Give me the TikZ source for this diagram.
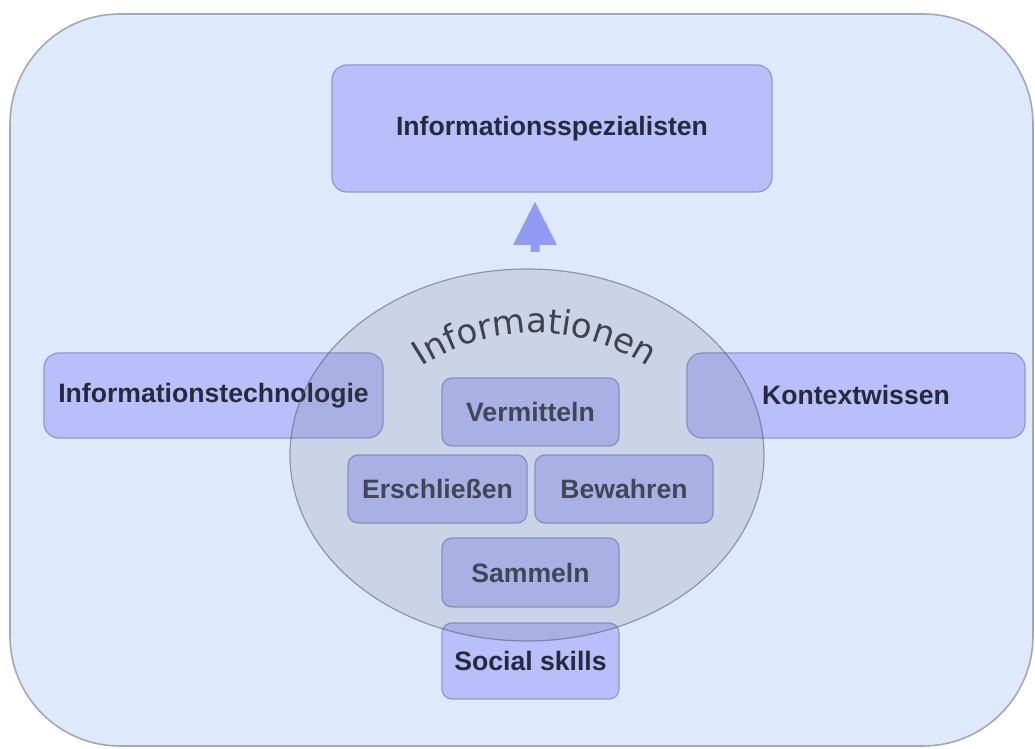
\documentclass[tikz,border=0pt]{standalone}
\usepackage{fontspec}
\setsansfont{Liberation Sans}
\newfontfamily\curvefont{DejaVu Sans}
\usetikzlibrary{shapes.geometric,decorations.text}
\definecolor{framefill}{RGB}{223,233,252}
\definecolor{framedraw}{RGB}{165,168,178}
\definecolor{boxfill}{RGB}{185,191,250}
\definecolor{boxdraw}{RGB}{145,151,205}
\definecolor{shade}{RGB}{83,93,107}
\definecolor{textdark}{RGB}{38,42,58}
\definecolor{textgrey}{RGB}{62,67,84}
\definecolor{arrowfill}{RGB}{146,154,244}
\begin{document}
\begin{tikzpicture}[x=0.5pt, y=0.5pt,
		topic/.style={draw=boxdraw, line width=0.6pt, fill=boxfill, rounded corners=7.5pt, text=textdark, font=\sffamily\bfseries\fontsize{13.3}{15}\selectfont, inner sep=0pt},
		task/.style={topic, rounded corners=5pt, text=textgrey, minimum width=88.5pt, minimum height=34pt}]
			\useasboundingbox (0,0) rectangle (1035,749);
			\draw [draw=framedraw, line width=0.8pt, fill=framefill, rounded corners=55pt] (10,735) rectangle (1033,3);
			\node[topic, minimum width=220pt, minimum height=63.5pt] (spez) at (552,620.5) {Informationsspezialisten};
			\node[topic, minimum width=169.5pt, minimum height=42.5pt] (itech) at (213.5,353.5) {Informationstechnologie};
			\node[topic, minimum width=169pt, minimum height=42.5pt] (kontext) at (856,353.5) {Kontextwissen};
			\node[task] (vermitteln) at (530.5,337) {Vermitteln};
			\node[task, minimum width=89.5pt] (erschliessen) at (437.5,260) {Erschließen};
			\node[task, minimum width=89pt] (bewahren) at (624,260) {Bewahren};
			\node[task, minimum height=34.5pt] (sammeln) at (530.5,176.5) {Sammeln};
			\node[task, text=textdark, minimum height=38pt] (social) at (530.5,88) {Social skills};
			\node[ellipse, draw=shade, draw opacity=0.55, line width=0.6pt, fill=shade, fill opacity=0.15, minimum width=237pt, minimum height=186pt, inner sep=0pt] (info) at (527,294) {};
			\path[decorate, decoration={text along path, text align=center, text={|\curvefont\fontsize{17}{18}\selectfont\color{textgrey}|Informationen}}] (535,210) ++(124:103pt) arc[start angle=124, end angle=56, radius=103pt];
			\fill [arrowfill] (535,547) -- (557,504) -- (539.5,504) -- (539.5,497) -- (530.5,497) -- (530.5,504) -- (513,504) -- cycle;
		\end{tikzpicture}
\end{document}
